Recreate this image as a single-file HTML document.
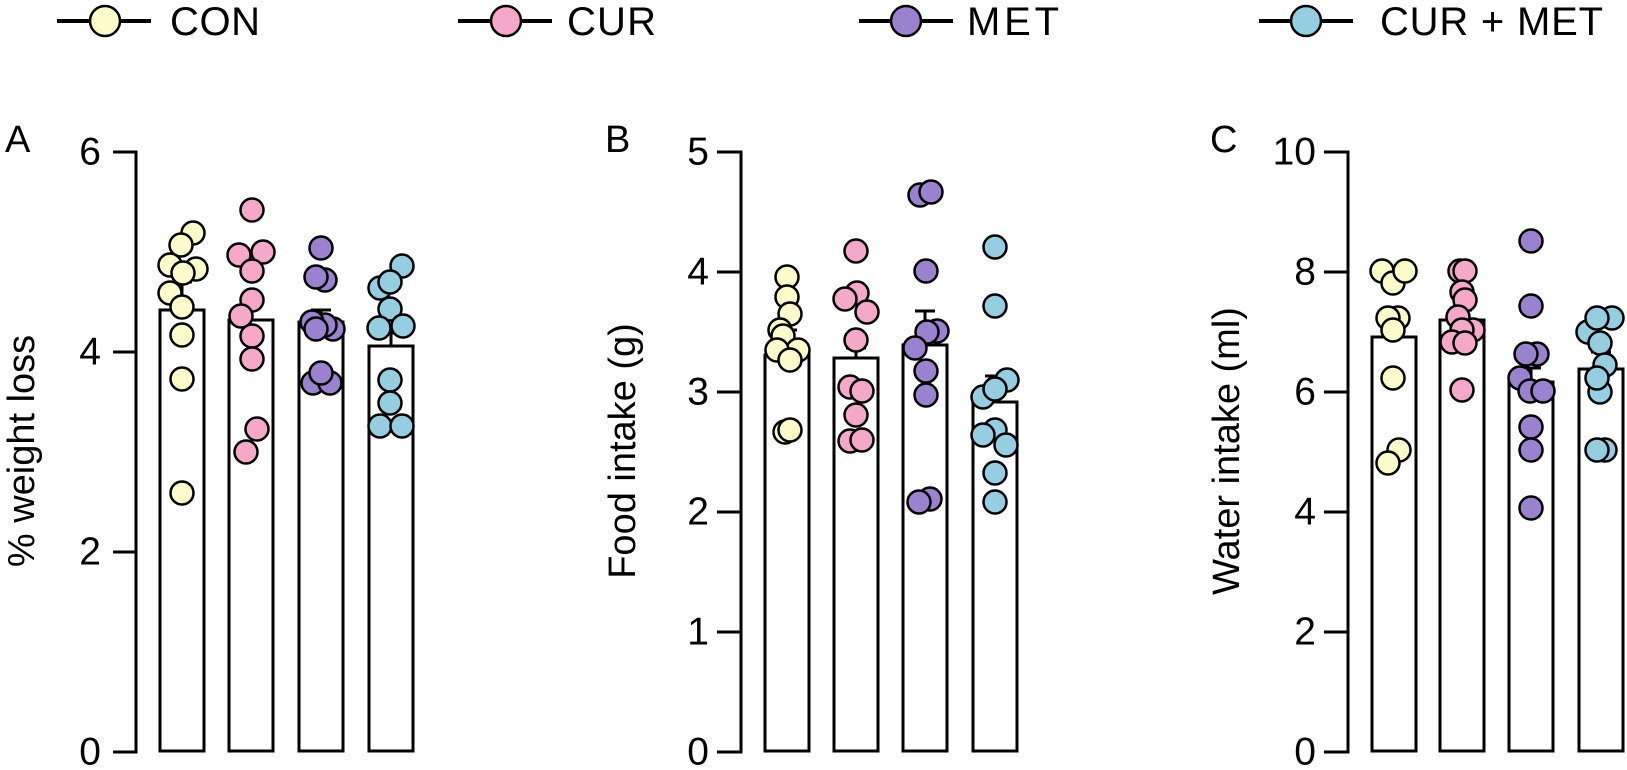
<!DOCTYPE html>
<html><head><meta charset="utf-8"><style>
html,body{margin:0;padding:0;background:#fff;}
svg{display:block;}
text{font-family:"Liberation Sans",sans-serif;fill:#000;}
.b{fill:#fff;stroke:#000;stroke-width:3;}
.ax{stroke:#000;stroke-width:3;fill:none;}
.tl{font-size:39px;text-anchor:end;dominant-baseline:central;}
.yl{font-size:38px;text-anchor:middle;}
.pl{font-size:38px;}
.lg{font-size:40px;}
circle{stroke:#000;stroke-width:2.5;}
.c1{fill:#FDFCCB;} .c2{fill:#F6A8C8;} .c3{fill:#9A82CE;} .c4{fill:#96CEE1;}
</style></head><body>
<svg width="1627" height="770" viewBox="0 0 1627 770" xmlns="http://www.w3.org/2000/svg">
<g>
<line x1="57" y1="21" x2="151" y2="21" stroke="#000" stroke-width="4"/><circle class="c1" cx="105" cy="21" r="15" stroke-width="3"/>
<text class="lg" x="170" y="35" textLength="90">CON</text>
<line x1="458" y1="21" x2="552" y2="21" stroke="#000" stroke-width="4"/><circle class="c2" cx="506" cy="21" r="15" stroke-width="3"/>
<text class="lg" x="567" y="35" textLength="89">CUR</text>
<line x1="859" y1="21" x2="953" y2="21" stroke="#000" stroke-width="4"/><circle class="c3" cx="906" cy="21" r="15" stroke-width="3"/>
<text class="lg" x="967" y="35" textLength="92">MET</text>
<line x1="1259" y1="21" x2="1353" y2="21" stroke="#000" stroke-width="4"/><circle class="c4" cx="1306" cy="21" r="15" stroke-width="3"/>
<text class="lg" x="1380" y="35" textLength="223">CUR + MET</text>
</g>

<text class="pl" x="5" y="152">A</text>
<text class="yl" transform="translate(34,451) rotate(-90)">% weight loss</text>
<path class="ax" d="M113,152 H136 V752 H113 M113,352 H136 M113,552 H136"/>
<text class="tl" x="101" y="152">6</text><text class="tl" x="101" y="352">4</text><text class="tl" x="101" y="552">2</text><text class="tl" x="101" y="752">0</text>
<rect class="b" x="160" y="310" width="44" height="441"/>
<rect class="b" x="229" y="320" width="44" height="431"/>
<rect class="b" x="299" y="322" width="44" height="429"/>
<rect class="b" x="369" y="346" width="44" height="405"/>
<path class="ax" d="M182,310V282M172,282H192 M251,320V298M241,298H261 M321,322V310M311,310H331 M391,346V333M381,333H401"/>
<g class="c1"><circle cx="193" cy="233" r="11.5"/><circle cx="181" cy="245" r="11.5"/><circle cx="196" cy="269" r="11.5"/><circle cx="170" cy="265" r="11.5"/><circle cx="183" cy="273" r="11.5"/><circle cx="170" cy="293" r="11.5"/><circle cx="182" cy="307" r="11.5"/><circle cx="182" cy="335" r="11.5"/><circle cx="182" cy="379" r="11.5"/><circle cx="182" cy="493" r="11.5"/></g>
<g class="c2"><circle cx="252" cy="210" r="11.5"/><circle cx="239" cy="255" r="11.5"/><circle cx="263" cy="252" r="11.5"/><circle cx="252" cy="271" r="11.5"/><circle cx="252" cy="300" r="11.5"/><circle cx="241" cy="316" r="11.5"/><circle cx="252" cy="336" r="11.5"/><circle cx="252" cy="359" r="11.5"/><circle cx="257" cy="429" r="11.5"/><circle cx="246" cy="452" r="11.5"/></g>
<g class="c3"><circle cx="321" cy="248" r="11.5"/><circle cx="325" cy="280" r="11.5"/><circle cx="316" cy="277" r="11.5"/><circle cx="333" cy="329" r="11.5"/><circle cx="325" cy="325" r="11.5"/><circle cx="312" cy="322" r="11.5"/><circle cx="316" cy="329" r="11.5"/><circle cx="313" cy="383" r="11.5"/><circle cx="330" cy="383" r="11.5"/><circle cx="321" cy="373" r="11.5"/></g>
<g class="c4"><circle cx="402" cy="266" r="11.5"/><circle cx="380" cy="288" r="11.5"/><circle cx="390" cy="282" r="11.5"/><circle cx="390" cy="309" r="11.5"/><circle cx="379" cy="328" r="11.5"/><circle cx="403" cy="326" r="11.5"/><circle cx="390" cy="380" r="11.5"/><circle cx="390" cy="403" r="11.5"/><circle cx="380" cy="426" r="11.5"/><circle cx="402" cy="426" r="11.5"/></g>

<text class="pl" x="605" y="152">B</text>
<text class="yl" transform="translate(635,451) rotate(-90)">Food intake (g)</text>
<path class="ax" d="M717,152 H741 V752 H717 M717,272 H741 M717,392 H741 M717,512 H741 M717,632 H741"/>
<text class="tl" x="709" y="152">5</text><text class="tl" x="709" y="272">4</text><text class="tl" x="709" y="392">3</text><text class="tl" x="709" y="512">2</text><text class="tl" x="709" y="632">1</text><text class="tl" x="709" y="752">0</text>
<rect class="b" x="765" y="355" width="44" height="396"/>
<rect class="b" x="834" y="358" width="44" height="393"/>
<rect class="b" x="903" y="345" width="44" height="406"/>
<rect class="b" x="973" y="402" width="44" height="349"/>
<path class="ax" d="M787,355V330M777,330H797 M856,358V348M846,348H866 M925,345V311M915,311H935 M995,402V376M985,376H1005"/>
<g class="c1"><circle cx="787" cy="277" r="11.5"/><circle cx="787" cy="297" r="11.5"/><circle cx="790" cy="314" r="11.5"/><circle cx="780" cy="330" r="11.5"/><circle cx="783" cy="336" r="11.5"/><circle cx="798" cy="350" r="11.5"/><circle cx="777" cy="350" r="11.5"/><circle cx="790" cy="360" r="11.5"/><circle cx="785" cy="432" r="11.5"/><circle cx="790" cy="430" r="11.5"/></g>
<g class="c2"><circle cx="856" cy="251" r="11.5"/><circle cx="857" cy="293" r="11.5"/><circle cx="845" cy="299" r="11.5"/><circle cx="867" cy="312" r="11.5"/><circle cx="856" cy="340" r="11.5"/><circle cx="850" cy="387" r="11.5"/><circle cx="862" cy="391" r="11.5"/><circle cx="856" cy="415" r="11.5"/><circle cx="850" cy="441" r="11.5"/><circle cx="862" cy="440" r="11.5"/></g>
<g class="c3"><circle cx="920" cy="195" r="11.5"/><circle cx="931" cy="192" r="11.5"/><circle cx="926" cy="271" r="11.5"/><circle cx="937" cy="331" r="11.5"/><circle cx="927" cy="332" r="11.5"/><circle cx="915" cy="348" r="11.5"/><circle cx="926" cy="371" r="11.5"/><circle cx="926" cy="395" r="11.5"/><circle cx="930" cy="499" r="11.5"/><circle cx="919" cy="502" r="11.5"/></g>
<g class="c4"><circle cx="995" cy="247" r="11.5"/><circle cx="995" cy="306" r="11.5"/><circle cx="1007" cy="380" r="11.5"/><circle cx="983" cy="397" r="11.5"/><circle cx="995" cy="389" r="11.5"/><circle cx="995" cy="430" r="11.5"/><circle cx="983" cy="435" r="11.5"/><circle cx="1006" cy="445" r="11.5"/><circle cx="995" cy="473" r="11.5"/><circle cx="995" cy="502" r="11.5"/></g>

<text class="pl" x="1210" y="152">C</text>
<text class="yl" transform="translate(1239,451) rotate(-90)">Water intake (ml)</text>
<path class="ax" d="M1324,152 H1348 V752 H1324 M1324,272 H1348 M1324,392 H1348 M1324,512 H1348 M1324,632 H1348"/>
<text class="tl" x="1316" y="152">10</text><text class="tl" x="1316" y="272">8</text><text class="tl" x="1316" y="392">6</text><text class="tl" x="1316" y="512">4</text><text class="tl" x="1316" y="632">2</text><text class="tl" x="1316" y="752">0</text>
<rect class="b" x="1372" y="337" width="44" height="414"/>
<rect class="b" x="1440" y="320" width="44" height="431"/>
<rect class="b" x="1509" y="382" width="44" height="369"/>
<rect class="b" x="1579" y="369" width="44" height="382"/>
<path class="ax" d="M1394,337V320M1384,320H1404 M1462,320V310M1452,310H1472 M1531,382V368M1521,368H1541 M1601,369V352M1591,352H1611"/>
<g class="c1"><circle cx="1382" cy="271" r="11.5"/><circle cx="1393" cy="283" r="11.5"/><circle cx="1405" cy="271" r="11.5"/><circle cx="1398" cy="318" r="11.5"/><circle cx="1388" cy="318" r="11.5"/><circle cx="1393" cy="330" r="11.5"/><circle cx="1393" cy="378" r="11.5"/><circle cx="1399" cy="450" r="11.5"/><circle cx="1388" cy="463" r="11.5"/></g>
<g class="c2"><circle cx="1460" cy="271" r="11.5"/><circle cx="1465" cy="271" r="11.5"/><circle cx="1462" cy="292" r="11.5"/><circle cx="1465" cy="300" r="11.5"/><circle cx="1458" cy="317" r="11.5"/><circle cx="1473" cy="330" r="11.5"/><circle cx="1462" cy="330" r="11.5"/><circle cx="1452" cy="342" r="11.5"/><circle cx="1465" cy="343" r="11.5"/><circle cx="1462" cy="390" r="11.5"/></g>
<g class="c3"><circle cx="1531" cy="241" r="11.5"/><circle cx="1531" cy="306" r="11.5"/><circle cx="1537" cy="354" r="11.5"/><circle cx="1526" cy="354" r="11.5"/><circle cx="1520" cy="378" r="11.5"/><circle cx="1530" cy="391" r="11.5"/><circle cx="1543" cy="391" r="11.5"/><circle cx="1531" cy="427" r="11.5"/><circle cx="1531" cy="450" r="11.5"/><circle cx="1531" cy="508" r="11.5"/></g>
<g class="c4"><circle cx="1588" cy="332" r="11.5"/><circle cx="1612" cy="318" r="11.5"/><circle cx="1597" cy="318" r="11.5"/><circle cx="1600" cy="343" r="11.5"/><circle cx="1605" cy="365" r="11.5"/><circle cx="1600" cy="392" r="11.5"/><circle cx="1597" cy="378" r="11.5"/><circle cx="1605" cy="450" r="11.5"/><circle cx="1597" cy="450" r="11.5"/></g>
</svg>
</body></html>
